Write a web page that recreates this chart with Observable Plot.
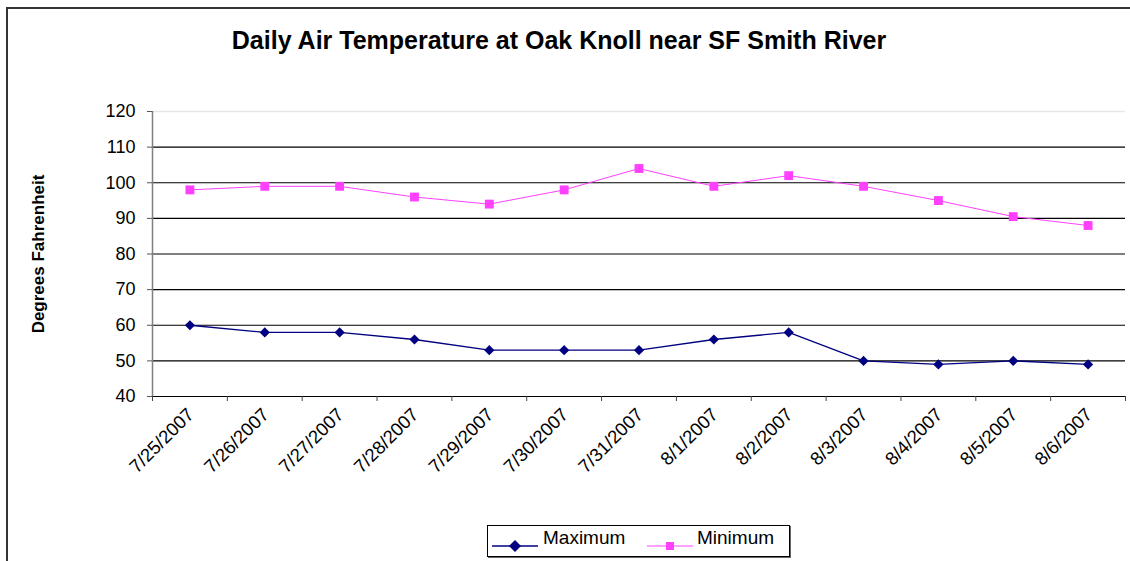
<!DOCTYPE html>
<html><head><meta charset="utf-8">
<script src="https://cdn.jsdelivr.net/npm/d3@7"></script>
<script src="https://cdn.jsdelivr.net/npm/@observablehq/plot@0.6"></script>
<style>
body{margin:0;background:#fff;}
#wrap{position:relative;width:1130px;height:561px;overflow:hidden;font-family:Arial,"Liberation Sans",sans-serif;background:#fff;}
#frame{position:absolute;left:6px;top:7px;width:1200px;height:600px;border-left:2px solid #333;border-top:2px solid #333;}
#title{position:absolute;left:0;width:1118px;top:26px;text-align:center;font-weight:bold;font-size:25px;color:#000;}
#chart{position:absolute;left:0;top:0;}
#legend{position:absolute;left:487px;top:525px;width:301px;height:30px;border:1px solid #000;box-shadow:1px 1px 0 #666;background:#fff;}
#legend span{position:absolute;top:1px;font-size:19px;white-space:nowrap;}
</style></head>
<body>
<div id="wrap">
  <div id="frame"></div>
  <div id="chart"></div>
  <div id="title">Daily Air Temperature at Oak Knoll near SF Smith River</div>
  <div id="legend"></div>
</div>
<script>
const dates = ["7/25/2007","7/26/2007","7/27/2007","7/28/2007","7/29/2007","7/30/2007","7/31/2007","8/1/2007","8/2/2007","8/3/2007","8/4/2007","8/5/2007","8/6/2007"];
const maximum = [60, 58, 58, 56, 53, 53, 53, 56, 58, 50, 49, 50, 49];
const minimum = [98, 99, 99, 96, 94, 98, 104, 99, 102, 99, 95, 90.5, 88];
const yTicks = [40, 50, 60, 70, 80, 90, 100, 110, 120];
const seriesNames = ["Maximum", "Minimum"];
const seriesColors = ["#000080", "#ff40ff"];

const data = dates.map((d, i) => ({i, date: d, max: maximum[i], min: minimum[i]}));
const catX = d => d.i + 0.5;
const boundaries = d3.range(0, dates.length + 1);

const chart = Plot.plot({
  width: 1130,
  height: 561,
  marginLeft: 152,
  marginRight: 5,
  marginTop: 111,
  marginBottom: 165,
  style: {fontFamily: "Arial, 'Liberation Sans', sans-serif", background: "transparent"},
  x: {type: "linear", domain: [0, dates.length], axis: null},
  y: {type: "linear", domain: [40, 120], axis: null},
  marks: [
    Plot.ruleY(yTicks.filter(v => v > 40 && v < 120), {stroke: "#000", strokeWidth: 1.2}),
    Plot.ruleY([120], {stroke: "#e6e6e6", strokeWidth: 1.5}),
    Plot.ruleX([0], {stroke: "#808080", strokeWidth: 1.5}),
    Plot.ruleY([40], {stroke: "#000", strokeWidth: 1.2}),
    Plot.axisY(yTicks, {tickSize: 5, tickPadding: 12, fontSize: 18, stroke: "#555", fill: "#000", tickFormat: d => String(d)}),
    Plot.axisX(boundaries, {tickSize: 5, tickFormat: () => "", stroke: "#444"}),
    Plot.text(data, {x: catX, y: () => 40, text: "date", rotate: -45, textAnchor: "end", fontSize: 18.5, dy: 15, dx: 1, fill: "#000"}),
    Plot.text(["Degrees Fahrenheit"], {frameAnchor: "left", textAnchor: "middle", rotate: -90, dx: -114, fontWeight: "bold", fontSize: 17, fill: "#000"}),
    Plot.line(data, {x: catX, y: "min", stroke: seriesColors[1], strokeWidth: 1}),
    Plot.dot(data, {x: catX, y: "min", symbol: "square", fill: seriesColors[1], r: 5}),
    Plot.line(data, {x: catX, y: "max", stroke: seriesColors[0], strokeWidth: 1.3}),
    Plot.dot(data, {x: catX, y: "max", symbol: "diamond2", fill: seriesColors[0], r: 4.6})
  ]
});
document.getElementById("chart").appendChild(chart);

// legend
const legend = document.getElementById("legend");
const legendLayout = [{sx: 4, tx: 55}, {sx: 159, tx: 209}];
seriesNames.forEach((name, k) => {
  const ns = "http://www.w3.org/2000/svg";
  const svg = document.createElementNS(ns, "svg");
  svg.setAttribute("width", 48); svg.setAttribute("height", 30);
  svg.style.position = "absolute"; svg.style.left = legendLayout[k].sx + "px"; svg.style.top = "0px";
  const ln = document.createElementNS(ns, "line");
  ln.setAttribute("x1", 0); ln.setAttribute("x2", 46); ln.setAttribute("y1", 20); ln.setAttribute("y2", 20);
  ln.setAttribute("stroke", seriesColors[k]); ln.setAttribute("stroke-width", k === 0 ? 1.3 : 1);
  svg.appendChild(ln);
  const sym = document.createElementNS(ns, "path");
  sym.setAttribute("transform", "translate(23,20)");
  sym.setAttribute("d", k === 0 ? "M0,-6L6,0L0,6L-6,0Z" : "M-4,-4H4V4H-4Z");
  sym.setAttribute("fill", seriesColors[k]);
  svg.appendChild(sym);
  legend.appendChild(svg);
  const sp = document.createElement("span");
  sp.textContent = name; sp.style.left = legendLayout[k].tx + "px";
  legend.appendChild(sp);
});
</script>
</body></html>
